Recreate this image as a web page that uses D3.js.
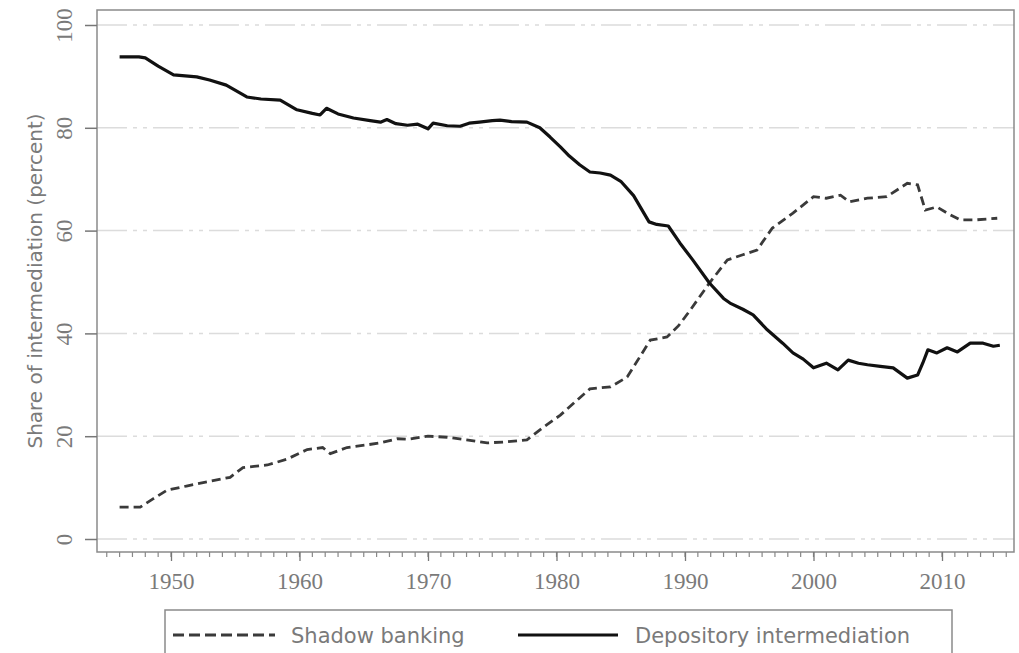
<!DOCTYPE html>
<html>
<head>
<meta charset="utf-8">
<script src="https://cdn.jsdelivr.net/npm/d3@7"></script>
<style>
  body { margin: 0; background: #fff; }
  svg { display: block; }
</style>
</head>
<body>
<div id="chart"></div>
<script>
const depYears = [1946, 1947.5, 1948, 1949, 1950.2, 1952, 1953, 1954.3, 1955.9, 1957, 1958.5, 1959.8, 1961, 1961.6, 1962.1, 1963, 1964.2, 1965.5, 1966.3, 1966.8, 1967.5, 1968.4, 1969.2, 1970, 1970.4, 1971.5, 1972.5, 1973.2, 1974, 1975, 1975.6, 1976.5, 1977.7, 1978.7, 1979.5, 1980.3, 1981, 1981.8, 1982.6, 1983.4, 1984.2, 1985, 1986, 1987.2, 1987.8, 1988.7, 1989.6, 1990.6, 1991.9, 1993, 1993.5, 1994.5, 1995.3, 1996.4, 1997.6, 1998.4, 1999.2, 2000, 2001, 2001.9, 2002.7, 2003.5, 2004.2, 2005.2, 2006.2, 2007.3, 2008.1, 2008.5, 2008.9, 2009.6, 2010.4, 2011.2, 2012.2, 2013.2, 2014, 2014.5];
const depValues = [93.8, 93.8, 93.6, 92, 90.3, 89.9, 89.3, 88.3, 86, 85.6, 85.4, 83.5, 82.8, 82.5, 83.8, 82.7, 81.9, 81.4, 81.1, 81.6, 80.8, 80.5, 80.7, 79.8, 80.9, 80.4, 80.3, 80.9, 81.1, 81.4, 81.5, 81.2, 81.1, 80, 78.2, 76.3, 74.5, 72.8, 71.4, 71.2, 70.8, 69.6, 66.8, 61.7, 61.2, 60.9, 57.6, 54.3, 49.8, 46.8, 45.9, 44.7, 43.6, 40.7, 38.1, 36.2, 35, 33.3, 34.2, 32.9, 34.8, 34.2, 33.9, 33.6, 33.3, 31.3, 31.9, 34.2, 36.8, 36.2, 37.2, 36.4, 38.1, 38.1, 37.5, 37.7];

const shadowYears = [1946, 1947.6, 1948.6, 1949.7, 1951.2, 1952.8, 1954.6, 1955.6, 1957.5, 1959, 1960.6, 1961.8, 1962.4, 1963.7, 1965.2, 1966.3, 1967.6, 1968.4, 1970, 1971.5, 1973, 1974.6, 1976.1, 1977.7, 1978.9, 1980.3, 1981.6, 1982.6, 1984.2, 1985.5, 1986.5, 1987.3, 1988.6, 1989.5, 1990.4, 1991.9, 1993.3, 1994.5, 1995.6, 1996.8, 1998.4, 2000, 2001, 2002.1, 2002.8, 2004.2, 2005.7, 2007.3, 2008.1, 2008.7, 2009.6, 2010.4, 2011.4, 2012.7, 2014.3];
const shadowValues = [6.2, 6.2, 7.8, 9.5, 10.3, 11.1, 12, 13.9, 14.4, 15.5, 17.4, 17.8, 16.6, 17.8, 18.3, 18.7, 19.5, 19.4, 20, 19.8, 19.3, 18.7, 18.9, 19.3, 21.6, 24.1, 27, 29.2, 29.6, 31.5, 35.5, 38.7, 39.3, 41.5, 44.5, 49.8, 54.3, 55.3, 56.2, 60.5, 63.4, 66.6, 66.3, 66.9, 65.6, 66.3, 66.6, 69.2, 68.9, 64, 64.6, 63.4, 62.1, 62.1, 62.4];

const yTicks = [0, 20, 40, 60, 80, 100];
const xTicks = [1950, 1960, 1970, 1980, 1990, 2000, 2010];
const legendLabels = ["Shadow banking", "Depository intermediation"];

const width = 1019, height = 653;
const frame = { left: 97, top: 10, right: 1014, bottom: 552 };

const svg = d3.select("#chart").append("svg")
  .attr("width", width)
  .attr("height", height);

// scales: 1950 -> 171, 2010 -> 942 ; 0 -> 539, 100 -> 25
const x = d3.scaleLinear().domain([1950, 2010]).range([171, 942]);
const y = d3.scaleLinear().domain([0, 100]).range([539, 25]);

// gridlines
svg.append("g")
  .selectAll("line")
  .data(yTicks)
  .join("line")
  .attr("x1", frame.left)
  .attr("x2", frame.right)
  .attr("y1", d => y(d))
  .attr("y2", d => y(d))
  .attr("stroke", "#dcdcdc")
  .attr("stroke-width", 1.5)
  .attr("stroke-dasharray", "30,6,4,6,4,6");

// frame
svg.append("rect")
  .attr("x", frame.left)
  .attr("y", frame.top)
  .attr("width", frame.right - frame.left)
  .attr("height", frame.bottom - frame.top)
  .attr("fill", "none")
  .attr("stroke", "#8a8a8a")
  .attr("stroke-width", 1.5);

// y axis
const yAxis = svg.append("g")
  .attr("transform", `translate(${frame.left},0)`)
  .call(d3.axisLeft(y).tickValues(yTicks).tickSize(12).tickFormat(d3.format("d")));
yAxis.select(".domain").remove();
yAxis.selectAll(".tick line").attr("stroke", "#777").attr("stroke-width", 1.5);
yAxis.selectAll(".tick text")
  .attr("x", 0).attr("dy", 0)
  .attr("transform", "translate(-25,0) rotate(-90)")
  .attr("text-anchor", "middle")
  .attr("fill", "#7a7a7a")
  .style("font-family", "'Liberation Serif', 'DejaVu Serif', serif")
  .style("font-size", "23px");

// x axis minor ticks (yearly)
const minorYears = d3.range(1945, 2016);
svg.append("g")
  .selectAll("line")
  .data(minorYears)
  .join("line")
  .attr("x1", d => x(d))
  .attr("x2", d => x(d))
  .attr("y1", frame.bottom)
  .attr("y2", frame.bottom + 5)
  .attr("stroke", "#888")
  .attr("stroke-width", 1.2);

const xAxis = svg.append("g")
  .attr("transform", `translate(0,${frame.bottom})`)
  .call(d3.axisBottom(x).tickValues(xTicks).tickSize(9).tickFormat(d3.format("d")));
xAxis.select(".domain").remove();
xAxis.selectAll(".tick line").attr("stroke", "#777").attr("stroke-width", 1.3);
xAxis.selectAll(".tick text")
  .attr("y", 21)
  .attr("fill", "#7a7a7a")
  .style("font-family", "'Liberation Serif', 'DejaVu Serif', serif")
  .style("font-size", "23px");

// axis title
svg.append("text")
  .attr("transform", `translate(42,${(frame.top + frame.bottom) / 2}) rotate(-90)`)
  .attr("text-anchor", "middle")
  .attr("fill", "#7a7a7a")
  .style("font-family", "'DejaVu Sans', sans-serif")
  .style("font-size", "20px")
  .text("Share of intermediation (percent)");

// lines
const line = d3.line()
  .x(d => x(d[0]))
  .y(d => y(d[1]));

svg.append("path")
  .datum(shadowYears.map((yr, i) => [yr, shadowValues[i]]))
  .attr("d", line)
  .attr("fill", "none")
  .attr("stroke", "#3a3a3a")
  .attr("stroke-width", 2.8)
  .attr("stroke-dasharray", "9,5");

svg.append("path")
  .datum(depYears.map((yr, i) => [yr, depValues[i]]))
  .attr("d", line)
  .attr("fill", "none")
  .attr("stroke", "#111")
  .attr("stroke-width", 3.2)
  .attr("stroke-linejoin", "round");

// legend
const legend = svg.append("g");
legend.append("rect")
  .attr("x", 165)
  .attr("y", 610)
  .attr("width", 787)
  .attr("height", 60)
  .attr("fill", "#fff")
  .attr("stroke", "#8a8a8a")
  .attr("stroke-width", 1.5);

legend.append("line")
  .attr("x1", 173).attr("x2", 275)
  .attr("y1", 635).attr("y2", 635)
  .attr("stroke", "#3a3a3a")
  .attr("stroke-width", 2.8)
  .attr("stroke-dasharray", "11,5");
legend.append("text")
  .attr("x", 291).attr("y", 643)
  .attr("fill", "#7a7a7a")
  .style("font-family", "'DejaVu Sans', sans-serif")
  .style("font-size", "21px")
  .text(legendLabels[0]);

legend.append("line")
  .attr("x1", 518).attr("x2", 618)
  .attr("y1", 635).attr("y2", 635)
  .attr("stroke", "#111")
  .attr("stroke-width", 3.2);
legend.append("text")
  .attr("x", 635).attr("y", 643)
  .attr("fill", "#7a7a7a")
  .style("font-family", "'DejaVu Sans', sans-serif")
  .style("font-size", "21px")
  .text(legendLabels[1]);
</script>
</body>
</html>
